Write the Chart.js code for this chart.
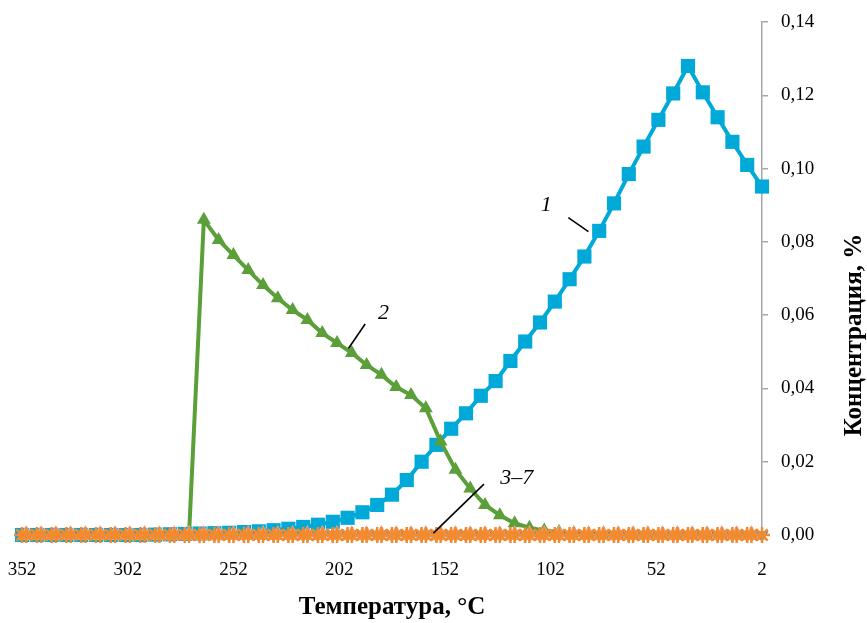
<!DOCTYPE html>
<html><head><meta charset="utf-8">
<script src="https://cdn.jsdelivr.net/npm/chart.js@4"></script>
<style>html,body{margin:0;padding:0;background:#fff}#wrap{width:867px;height:623px}</style>
</head><body><div id="wrap"><canvas id="c" width="867" height="623"></canvas></div>
<script>
const xTicks = [352, 302, 252, 202, 152, 102, 52, 2];
const yTicks = [0, 0.02, 0.04, 0.06, 0.08, 0.10, 0.12, 0.14];

const temps1 = [352,345,338,331,324,317,310,303,296,289,282,275,268,261,254,247,240,233,226,219,212,205,198,191,184,177,170,163,156,149,142,135,128,121,114,107,100,93,86,79,72,65,58,51,44,37,30,23,16,9,2];
const conc1 = [0,0,0,0,0,0,0,0,0,0.0001,0.0002,0.0003,0.0004,0.0005,0.0006,0.0008,0.0010,0.0013,0.0017,0.0022,0.0028,0.0036,0.0047,0.0062,0.0082,0.0110,0.0150,0.0200,0.0246,0.0290,0.0332,0.0380,0.0420,0.0475,0.0528,0.0580,0.0637,0.0698,0.0760,0.0830,0.0905,0.0985,0.1060,0.1133,0.1205,0.1280,0.1208,0.1140,0.1073,0.1010,0.0951];

const temps2 = [350,343,336,329,322,315,308,301,294,287,280,273,266,259,252,245,238,231,224,217,210,203,196,189,182,175,168,161,154,147,140,133,126,119,112,105,98,91,84,77,70,63,56,49,42,35,28,21,14,7];
const conc2 = [0,0,0,0,0,0,0,0,0,0,0,0,0.0860,0.0805,0.0764,0.0723,0.0682,0.0646,0.0614,0.0587,0.0551,0.0524,0.0497,0.0464,0.0437,0.0404,0.0382,0.0346,0.0255,0.0178,0.0127,0.0082,0.0054,0.0032,0.0020,0.0012,0.0008,0.0005,0.0003,0.0002,0.0001,0,0,0,0,0,0,0,0,0];

const zeros51 = [0,0,0,0,0,0,0,0,0,0,0,0,0,0,0,0,0,0,0,0,0,0,0,0,0,0,0,0,0,0,0,0,0,0,0,0,0,0,0,0,0,0,0,0,0,0,0,0,0,0,0];
const zeros50 = [0,0,0,0,0,0,0,0,0,0,0,0,0,0,0,0,0,0,0,0,0,0,0,0,0,0,0,0,0,0,0,0,0,0,0,0,0,0,0,0,0,0,0,0,0,0,0,0,0,0];

const xTitle = 'Температура, °С';
const yTitle = 'Концентрация, %';

const labels = [
  {text: '1', x: 104, y: 0.090},
  {text: '2', x: 181, y: 0.0605},
  {text: '3–7', x: 118, y: 0.0155}
];
const leaders = [
  {x1: 93.6, y1: 0.0866, x2: 84.1, y2: 0.0828},
  {x1: 189.7, y1: 0.0576, x2: 197.6, y2: 0.0509},
  {x1: 133.5, y1: 0.0139, x2: 157.4, y2: 0.0005}
];

function pts(xs, ys){ return xs.map((x,i)=>({x:x, y:ys[i]})); }

const FONT = "'Liberation Serif', 'Times New Roman', serif";

const overlay = {
  id: 'overlay',
  afterDatasetsDraw(chart){
    const ctx = chart.ctx, xs = chart.scales.x, ys = chart.scales.y, ca = chart.chartArea;
    ctx.save();
    ctx.strokeStyle = '#000'; ctx.lineWidth = 1.6;
    leaders.forEach(l=>{
      ctx.beginPath();
      ctx.moveTo(xs.getPixelForValue(l.x1), ys.getPixelForValue(l.y1));
      ctx.lineTo(xs.getPixelForValue(l.x2), ys.getPixelForValue(l.y2));
      ctx.stroke();
    });
    ctx.fillStyle = '#000';
    ctx.font = "italic 22px " + FONT;
    ctx.textAlign = 'center'; ctx.textBaseline = 'middle';
    labels.forEach(t=>{
      ctx.fillText(t.text, xs.getPixelForValue(t.x), ys.getPixelForValue(t.y));
    });
    ctx.font = "bold 25px " + FONT;
    ctx.fillText(xTitle, (ca.left + ca.right)/2, 608);
    ctx.translate(855, 335);
    ctx.rotate(-Math.PI/2);
    ctx.fillText(yTitle, 0, 0);
    ctx.restore();
  }
};

new Chart(document.getElementById('c'), {
  type: 'scatter',
  data: {
    datasets: [
      {label:'1', data: pts(temps1, conc1), showLine:true, clip:false, borderColor:'#00A9D8', backgroundColor:'#00A9D8', borderWidth:4, pointStyle:'rect', pointRadius:10, pointBorderWidth:0, order:7},
      {label:'2', data: pts(temps2, conc2), showLine:true, clip:false, borderColor:'#5B9F3A', backgroundColor:'#5B9F3A', borderWidth:4, pointStyle:'triangle', pointRadius:8, pointBorderWidth:0, order:6},
      {label:'3', data: pts(temps1, zeros51), showLine:true, clip:false, borderColor:'#2E86C8', backgroundColor:'#ffffff', borderWidth:2, pointStyle:'triangle', rotation:180, pointRadius:6, pointBorderWidth:1.5, order:5},
      {label:'4', data: pts(temps2, zeros50), showLine:true, clip:false, borderColor:'#EBA9A4', backgroundColor:'rgba(0,0,0,0)', borderWidth:2, pointStyle:'triangle', pointRadius:8, pointBorderWidth:2, order:4},
      {label:'5', data: pts(temps1, zeros51), showLine:true, clip:false, borderColor:'#EBA9A4', backgroundColor:'#EBA9A4', borderWidth:2, pointStyle:'crossRot', pointRadius:7, pointBorderWidth:2, order:3},
      {label:'6', data: pts(temps2, zeros50), showLine:true, clip:false, borderColor:'#F28A2E', backgroundColor:'#F28A2E', borderWidth:3, pointStyle:'star', pointRadius:8, pointBorderWidth:2.5, order:2},
      {label:'7', data: pts(temps1, zeros51), showLine:true, clip:false, borderColor:'#F28A2E', backgroundColor:'#F28A2E', borderWidth:3, pointStyle:'star', pointRadius:8, pointBorderWidth:2.5, order:1}
    ]
  },
  options: {
    responsive:false, animation:false,
    layout:{padding:{left:22, top:22, right:0, bottom:0}},
    plugins:{legend:{display:false}, tooltip:{enabled:false}},
    scales:{
      x:{
        type:'linear', reverse:true, min:2, max:352,
        afterBuildTicks(s){ s.ticks = xTicks.map(v=>({value:v})); },
        afterFit(s){ s.height = 88; s.paddingLeft = 0; s.paddingRight = 0; },
        grid:{display:false},
        border:{display:false},
        ticks:{color:'#000', font:{family:FONT, size:19}, padding:16, maxRotation:0, autoSkip:false, callback:v=>String(v)}
      },
      y:{
        position:'right', min:0, max:0.14,
        afterBuildTicks(s){ s.ticks = yTicks.map(v=>({value:v})); },
        afterFit(s){ s.width = 105; s.paddingTop = 0; s.paddingBottom = 0; },
        grid:{display:true, drawOnChartArea:false, drawTicks:true, tickLength:6, color:'#A6A6A6', lineWidth:1.5},
        border:{display:true, color:'#A6A6A6', width:1.5},
        ticks:{color:'#000', font:{family:FONT, size:19}, padding:13, callback:v=>Number(v).toFixed(2).replace('.', ',')}
      }
    }
  },
  plugins:[overlay]
});
</script>
</body></html>
